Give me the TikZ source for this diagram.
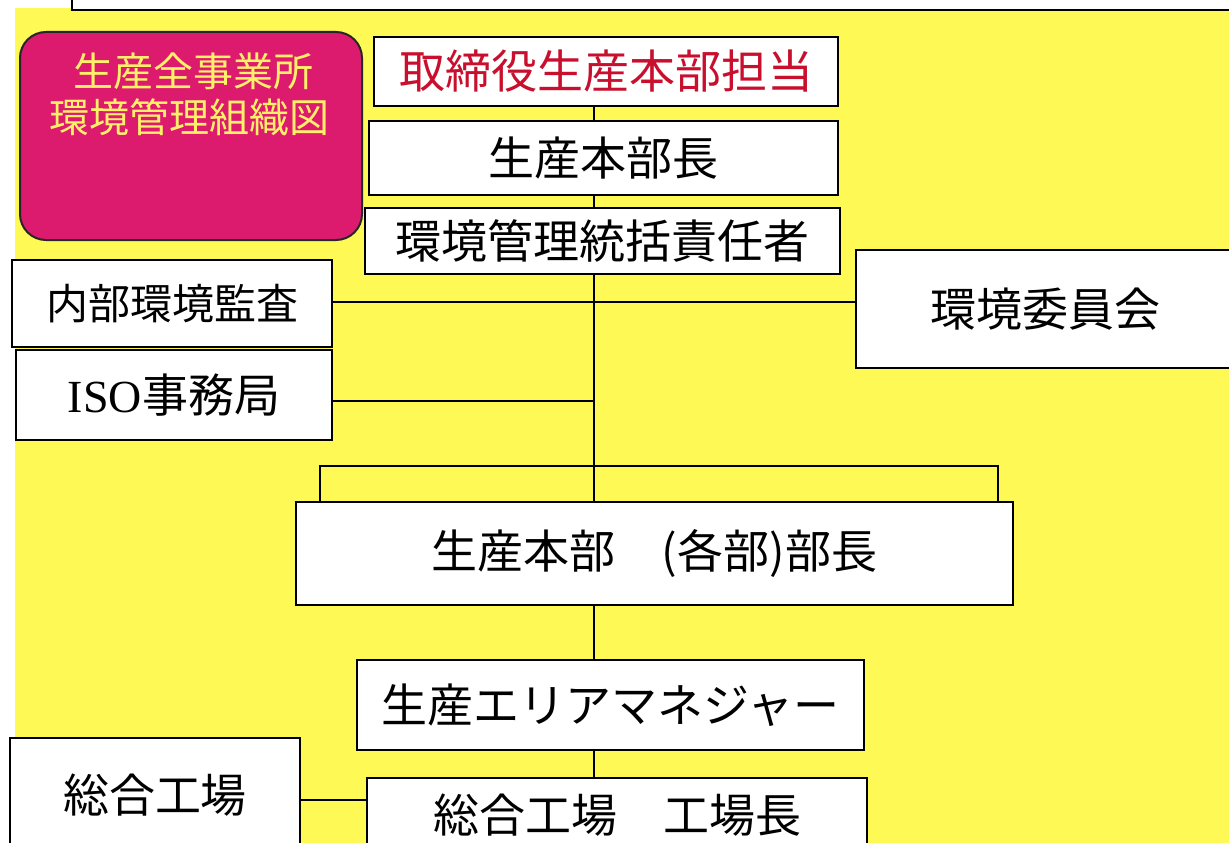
\documentclass[tikz,border=0pt]{standalone}
\usepackage{fontspec}
\newfontfamily\jp{Noto Sans CJK JP}
\newfontfamily\lat{Liberation Serif}
\definecolor{bgyellow}{HTML}{FFF955}
\definecolor{pinkfill}{HTML}{DC1A6E}
\definecolor{titletext}{HTML}{FFF06A}
\definecolor{redtext}{HTML}{C8102E}
\tikzset{
  box/.style={draw=black, line width=1.8pt, fill=white, inner sep=0pt, align=center},
  big/.style={font=\jp\fontsize{46}{52}\selectfont},
  mid/.style={font=\jp\fontsize{42}{48}\selectfont},
  conn/.style={draw=black, line width=1.5pt},
  titlebox/.style={draw=black!85, line width=2pt, fill=pinkfill, rounded corners=26pt, inner sep=0pt}
}
\begin{document}
\begin{tikzpicture}[x=1pt,y=-1pt]
\useasboundingbox (0,0) rectangle (1229,843);
\fill[white] (0,0) rectangle (1229,843);
\fill[bgyellow] (15,8) rectangle (1229,843);
% cropped top frame
\draw[line width=1.8pt, fill=white] (72,-40) rectangle (1260,10);

% title box
\node[titlebox, minimum width=342pt, minimum height=208pt] (title) at (191,136) {};
\node[font=\jp\fontsize{40}{46}\selectfont, text=titletext, align=center, anchor=north] (titletxt) at (189,49) {\ 生産全事業所\\環境管理組織図};

\coordinate (sp) at (594,0);

\node[box, big, text=redtext, minimum width=464pt, minimum height=69pt] (dir) at (606,71.5) {取締役生産本部担当};
\node[box, big, minimum width=469pt, minimum height=74pt] (head) at (603.5,158) {生産本部長};
\node[box, big, minimum width=475pt, minimum height=66pt] (chief) at (602.5,241) {環境管理統括責任者};

\node[box, mid, minimum width=320pt, minimum height=87pt] (audit) at (172,303.5) {内部環境監査};
\node[box, big, minimum width=378pt, minimum height=118pt] (comm) at (1045,309) {環境委員会};
\node[box, big, minimum width=316pt, minimum height=90pt] (iso) at (174,395) {{\lat ISO}事務局};

\node[box, big, minimum width=717pt, minimum height=103pt] (dept) at (654.5,553.5) {生産本部　(各部)部長};
\node[box, big, minimum width=507pt, minimum height=90pt] (area) at (610.5,705) {生産エリアマネジャー};
\node[box, big, minimum width=500pt, minimum height=74pt] (pm) at (617,815) {総合工場　工場長};
\node[box, big, minimum width=290pt, minimum height=114pt] (plant) at (155,795) {総合工場};

\coordinate (bl) at (320,466);
\coordinate (br) at (998,466);

\draw[conn] (dir.south -| sp) -- (head.north -| sp);
\draw[conn] (head.south -| sp) -- (chief.north -| sp);
\draw[conn] (chief.south -| sp) -- (dept.north -| sp);
\draw[conn] ([yshift=1.5pt]audit.east) -- ([yshift=1.5pt]audit.east -| comm.west);
\draw[conn] ([yshift=-6pt]iso.east) -- ([yshift=-6pt]iso.east -| sp);
\draw[conn] (dept.north -| bl) -- (bl) -- (br) -- (dept.north -| br);
\draw[conn] (dept.south -| sp) -- (area.north -| sp);
\draw[conn] (area.south -| sp) -- (pm.north -| sp);
\draw[conn] ([yshift=-5pt]plant.east) -- ([yshift=-5pt]plant.east -| pm.west);
\end{tikzpicture}
\end{document}
